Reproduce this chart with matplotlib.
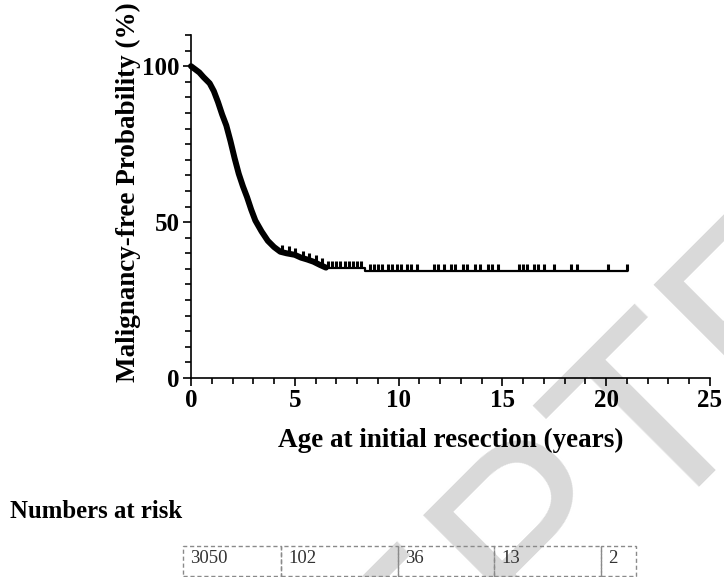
import numpy as np
import matplotlib
matplotlib.use("Agg")
import matplotlib.pyplot as plt
from matplotlib.patches import Rectangle
from matplotlib.ticker import MultipleLocator

# Kaplan-Meier curve (years, % malignancy-free)
km_time = [0, 0.2, 0.4, 0.6, 0.9, 1.1, 1.3, 1.5, 1.7, 1.9, 2.1, 2.3, 2.5, 2.7,
           2.9, 3.1, 3.4, 3.7, 4.0, 4.3, 4.6, 5.0, 5.3, 5.6, 5.9, 6.2, 6.5,
           8.4, 21.0]
km_surv = [100, 99, 98, 96.5, 94.5, 92, 88.5, 84.5, 81, 76, 70.5, 65.5, 61.5,
           58, 54, 50.5, 47, 44, 42, 40.5, 40, 39.5, 38.6, 38, 37.3, 36.3,
           35.4, 34.2, 34.2]

# censored observations (years)
cens_time = [4.4, 4.7, 5.0, 5.4, 5.7, 6.0, 6.3,
             6.6, 6.8, 7.0, 7.2, 7.4, 7.6, 7.8, 8.0, 8.2,
             8.6, 8.8, 9.0, 9.2, 9.5, 9.7, 9.9, 10.1, 10.4, 10.6, 10.9,
             11.7, 11.9, 12.2, 12.5, 12.7, 13.1, 13.3, 13.7, 13.9, 14.3,
             14.5, 14.8, 15.8, 16.0, 16.2, 16.5, 16.7, 17.0, 17.5, 18.3,
             18.6, 20.1, 21.0]

risk_counts = [3050, 102, 36, 13, 2]

serif = "Liberation Serif"
W, H = 724, 577
fig = plt.figure(figsize=(W / 100, H / 100), dpi=100)

# watermark behind everything (mostly off the page)
fig.text(0.045, -0.9997, "ACCEPTED", fontsize=183.6, color="#d9d9d9",
         rotation=45, rotation_mode="anchor", ha="left", va="baseline",
         family="Liberation Sans", zorder=-5)

ax = fig.add_axes([191 / W, 1 - 378 / H, 519 / W, 343 / H])
ax.set_facecolor("none")

t = np.array(km_time)
s = np.array(km_surv)
early = t <= 6.5
late = t >= 6.5
ax.plot(t[early], s[early], color="black", lw=4.3, solid_capstyle="round",
        clip_on=False)
ax.plot(t[late], s[late], drawstyle="steps-post", color="black", lw=1.6)

ct = np.array(cens_time)
idx = np.searchsorted(t, ct, side="right") - 1
ax.plot(ct, s[idx], ls="none", marker=2, ms=5, mew=2.2, color="black")

ax.set_xlim(0, 25)
ax.set_ylim(0, 110)
ax.xaxis.set_major_locator(MultipleLocator(5))
ax.xaxis.set_minor_locator(MultipleLocator(1))
ax.set_yticks([0, 50, 100])
ax.yaxis.set_minor_locator(MultipleLocator(5))
for side in ["top", "right"]:
    ax.spines[side].set_visible(False)
for side in ["left", "bottom"]:
    ax.spines[side].set_linewidth(1.2)
ax.tick_params(which="major", direction="out", length=6, width=1.2,
               labelsize=18, pad=2)
ax.tick_params(which="minor", direction="out", length=4, width=1.2)
for lab in ax.get_xticklabels() + ax.get_yticklabels():
    lab.set_family(serif)
    lab.set_fontweight("bold")

ax.set_xlabel("Age at initial resection (years)", family=serif,
              fontweight="bold", fontsize=19.5)
ax.xaxis.set_label_coords(0.501, -0.146)
ax.set_ylabel("Malignancy-free Probability (%)", family=serif,
              fontweight="bold", fontsize=19.5, va="center")
ax.yaxis.set_label_coords(-0.121, 0.542)

fig.text(10 / W, 1 - 512 / H, "Numbers at risk", family=serif,
         fontweight="bold", fontsize=17.8, va="center", ha="left")

# numbers-at-risk table with dashed cell borders
edges = [183, 281, 398, 494, 601, 636]
tab = fig.add_axes([183 / W, 1 - 576 / H, (636 - 183) / W, 30 / H])
tab.set_xlim(183, 636)
tab.set_ylim(0, 1)
tab.axis("off")
for i, n in enumerate(risk_counts):
    tab.add_patch(Rectangle((edges[i], 0), edges[i + 1] - edges[i], 1,
                            fill=False, ec="#8a8a8a", lw=1.0, ls=(0, (3, 2)),
                            clip_on=False))
    tab.annotate(str(n), (edges[i], 0.58), xytext=(5, 0),
                 textcoords="offset points", family=serif, fontsize=13.5,
                 color="#333333", va="center", ha="left")

fig.savefig("out.png", dpi=100)
